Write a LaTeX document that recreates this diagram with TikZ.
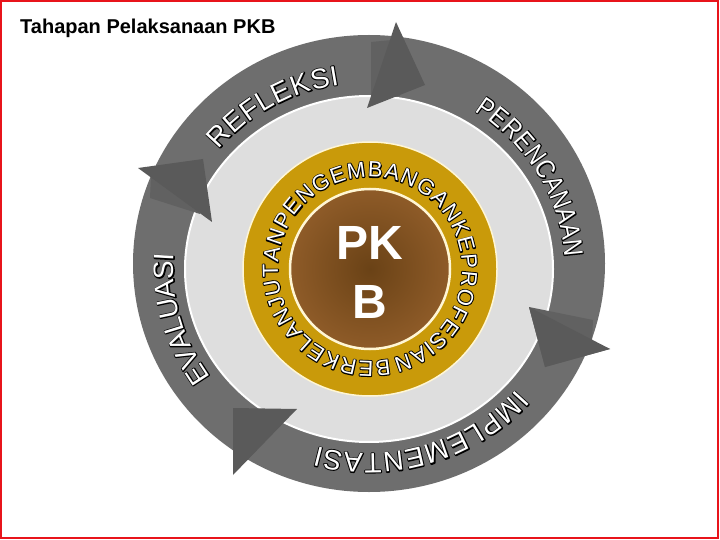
\documentclass[tikz,border=0pt]{standalone}
\usepackage{fontspec}
\setmainfont{Liberation Sans}
\usepackage{graphicx}
\usetikzlibrary{calc}
\definecolor{ringgray}{HTML}{6E6E6E}
\definecolor{arrowgray}{HTML}{5A5A5A}
\definecolor{bodygray}{HTML}{616161}
\definecolor{discgray}{HTML}{DEDEDE}
\definecolor{goldring}{HTML}{C99A0A}
\definecolor{cream}{HTML}{FFF6D5}
\definecolor{browndark}{HTML}{6A4216}
\definecolor{brownlight}{HTML}{8E5B28}
\definecolor{framered}{HTML}{E8141B}
\newlength\rtdim
% white letter with a black outline: a stroked black copy under a white copy
\newcommand\olet[1]{\leavevmode\rlap{\color{black}\special{pdf:literal direct 0 g 0 G 1.9 w 1 j 2 Tr}#1\special{pdf:literal direct 0 Tr}}{\color{white}#1}}
\newcommand\wordbig[1]{\fontsize{28}{28}\selectfont\olet{#1}}
\newcommand\wordcond[1]{\fontsize{27}{27}\selectfont\scalebox{.85}[1]{\olet{#1}}}
\newcommand\wordgold[1]{\fontsize{22}{22}\selectfont\olet{#1}}
\newcommand\measureletter[2]{%
  \pgfinterruptpicture\settowidth\rtdim{\normalfont#1{#2}}\global\rtdim=\rtdim\endpgfinterruptpicture}
% #1 centre, #2 x-radius, #3 y-radius, #4 first angle, #5 last angle, #6 wrapper, #7 letters, #8 name prefix
\newcommand\RingWord[8]{%
  \gdef\rttot{0}\gdef\rtfirst{0pt}\gdef\rtlast{0pt}%
  \foreach \ch [count=\ci] in {#7}{%
    \measureletter{#6}{\ch}%
    \pgfmathsetmacro\rtt{\rttot+\rtdim}\xdef\rttot{\rtt}%
    \ifnum\ci=1 \xdef\rtfirst{\the\rtdim}\fi
    \xdef\rtlast{\the\rtdim}%
  }%
  \pgfmathsetmacro\rtscale{(#5-(#4))/(\rttot-\rtfirst/2-\rtlast/2)}%
  \xdef\rtscale{\rtscale}%
  \gdef\rtcum{0}%
  \foreach \ch [count=\ci] in {#7}{%
    \measureletter{#6}{\ch}%
    \pgfmathsetmacro\rtang{#4+\rtscale*(\rtcum+\rtdim/2-\rtfirst/2)}%
    \node[inner sep=0pt, rotate=\rtang-90] (#8\ci) at ($(#1)+({#2*cos(\rtang)},{#3*sin(\rtang)})$) {#6{\ch}};%
    \pgfmathsetmacro\rtt{\rtcum+\rtdim}\xdef\rtcum{\rtt}%
  }%
}
\tikzset{
  arrowhead/.style={fill=arrowgray},
  arrowbody/.style={fill=bodygray},
}
\begin{document}
\begin{tikzpicture}[x=1pt,y=1pt]
\useasboundingbox (0,0) rectangle (720,-540);
\fill[white] (0,0) rectangle (720,-540);
\coordinate (rc) at (369,-268);
\coordinate (gc) at (370,-269);
% outer ring
\fill[ringgray] (369,-263.5) ellipse [x radius=236, y radius=228.5];
% light disc
\filldraw[fill=discgray, draw=white, line width=2] (369,-269) ellipse [x radius=184, y radius=173];
% arrow heads (clockwise)
\path[arrowbody] (371,-42) -- (392,-40) -- (400,-96) -- (371,-101) -- cycle;
\path[arrowhead] (396,-22) -- (425,-85) -- (367,-108) -- cycle;
\path[arrowbody] (529,-307) -- (593,-320) -- (592,-341) -- (610,-349) -- (545,-367) -- cycle;
\path[arrowhead] (529,-307) -- (610,-349) -- (545,-367) -- cycle;
\path[arrowhead] (233,-408) -- (297,-409) -- (233,-475) -- cycle;
\path[arrowbody] (151,-176) -- (185,-172) -- (200,-214) -- (150,-198) -- cycle;
\path[arrowhead] (138,-168) -- (203,-159) -- (212,-222) -- cycle;
% ring words
\RingWord{rc}{205}{195}{137.2}{99.8}{\wordbig}{R,E,F,L,E,K,S,I}{refl}
\RingWord{rc}{205}{195}{55.2}{5.9}{\wordcond}{P,E,R,E,N,C,A,N,A,A,N}{pere}
\RingWord{rc}{205}{195}{317.8}{255.7}{\wordbig}{I,M,P,L,E,M,E,N,T,A,S,I}{impl}
\RingWord{rc}{205}{195}{213.1}{176.9}{\wordbig}{E,V,A,L,U,A,S,I}{eval}
% gold ring
\filldraw[fill=goldring, draw=cream, line width=1.5] (gc) circle (127);
\shade[inner color=browndark, outer color=brownlight] (gc) circle (79);
\draw[cream, line width=2.5] (gc) circle (80);
\RingWord{gc}{99.5}{99.5}{277.5}{-70.5}{\wordgold}{B,E,R,K,E,L,A,N,J,U,T,A,N,P,E,N,G,E,M,B,A,N,G,A,N,K,E,P,R,O,F,E,S,I,A,N}{pkb}
% centre text
\node[inner sep=0, anchor=base, text=white, font=\bfseries\fontsize{48}{48}\selectfont] (pk) at (370,-259) {PK};
\node[inner sep=0, anchor=base, text=white, font=\bfseries\fontsize{48}{48}\selectfont] (b) at (370,-318) {B};
% title
\node[inner sep=0, anchor=base west, font=\bfseries\fontsize{20}{24}\selectfont] (title) at (20,-34) {Tahapan Pelaksanaan PKB};
% frame
\draw[framered, line width=2] (1,-1) rectangle (718,-538);
\end{tikzpicture}
\end{document}
